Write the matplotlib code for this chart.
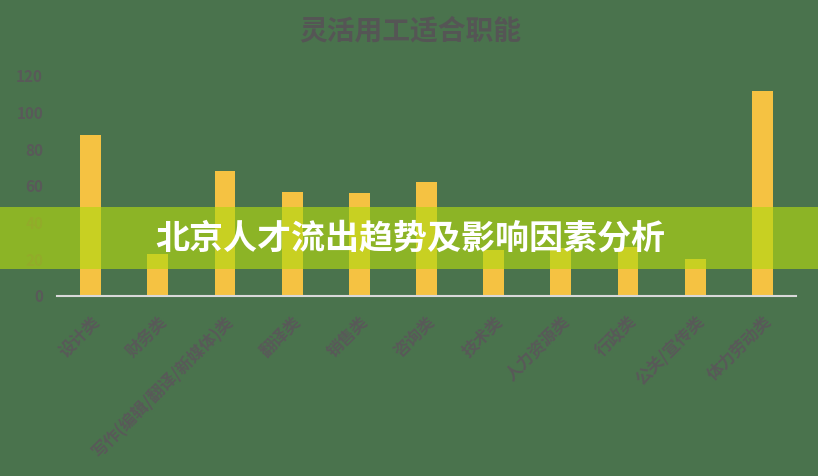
import numpy as np
import matplotlib
matplotlib.use("Agg")
import matplotlib.pyplot as plt
from matplotlib.patches import Rectangle

plt.rcParams['font.family'] = ['Noto Sans CJK SC', 'DejaVu Sans']

# data
categories = ['设计类', '财务类', '写作(编辑/翻译/新媒体)类', '翻译类', '销售类', '咨询类',
              '技术类', '人力资源类', '行政类', '公关/宣传类', '体力劳动类']
values = [88, 23, 68, 57, 56, 62, 25, 26, 27, 20, 112]
yticks = [0, 20, 40, 60, 80, 100, 120]

bg = '#4a734d'
bar_col = '#f5c242'
txt_col = '#595959'

fig = plt.figure(figsize=(8.18, 4.76), dpi=100, facecolor=bg)
ax = fig.add_axes([57/818, 1-296/476, (796-57)/818, (296-76)/476])
ax.set_facecolor(bg)

x = np.arange(len(categories))
ax.bar(x, values, width=0.31, color=bar_col, zorder=2)
ax.set_xlim(-0.5, len(categories)-0.5)
ax.set_ylim(0, 120)
ax.set_yticks(yticks)
ax.set_yticklabels([str(v) for v in yticks], color=txt_col, fontsize=11, fontweight='bold')
ax.set_xticks(x)
ax.set_xticklabels(categories, rotation=45, ha='right', va='top', rotation_mode='anchor',
                   color=txt_col, fontsize=12, fontweight='bold')
ax.tick_params(axis='both', length=0)
ax.tick_params(axis='y', pad=10)
ax.tick_params(axis='x', pad=12)
for s in ['top', 'right', 'left']:
    ax.spines[s].set_visible(False)
ax.spines['bottom'].set_color('#d9d9d9')
ax.spines['bottom'].set_linewidth(1.5)
ax.spines['bottom'].set_zorder(3)

fig.text(410/818, 1-31/476, '灵活用工适合职能', ha='center', va='center',
         fontsize=20, fontweight='bold', color='#555555')

# translucent banner over the chart
band = Rectangle((0, 1-269/476), 1, 62/476, transform=fig.transFigure,
                 facecolor='#b1d811', alpha=0.65, edgecolor='none', zorder=10)
fig.add_artist(band)
fig.text(410/818, 1-238/476, '北京人才流出趋势及影响因素分析', ha='center', va='center',
         fontsize=24.5, fontweight='heavy', color='white', zorder=11)

fig.savefig('out.png', dpi=100, facecolor=bg)
